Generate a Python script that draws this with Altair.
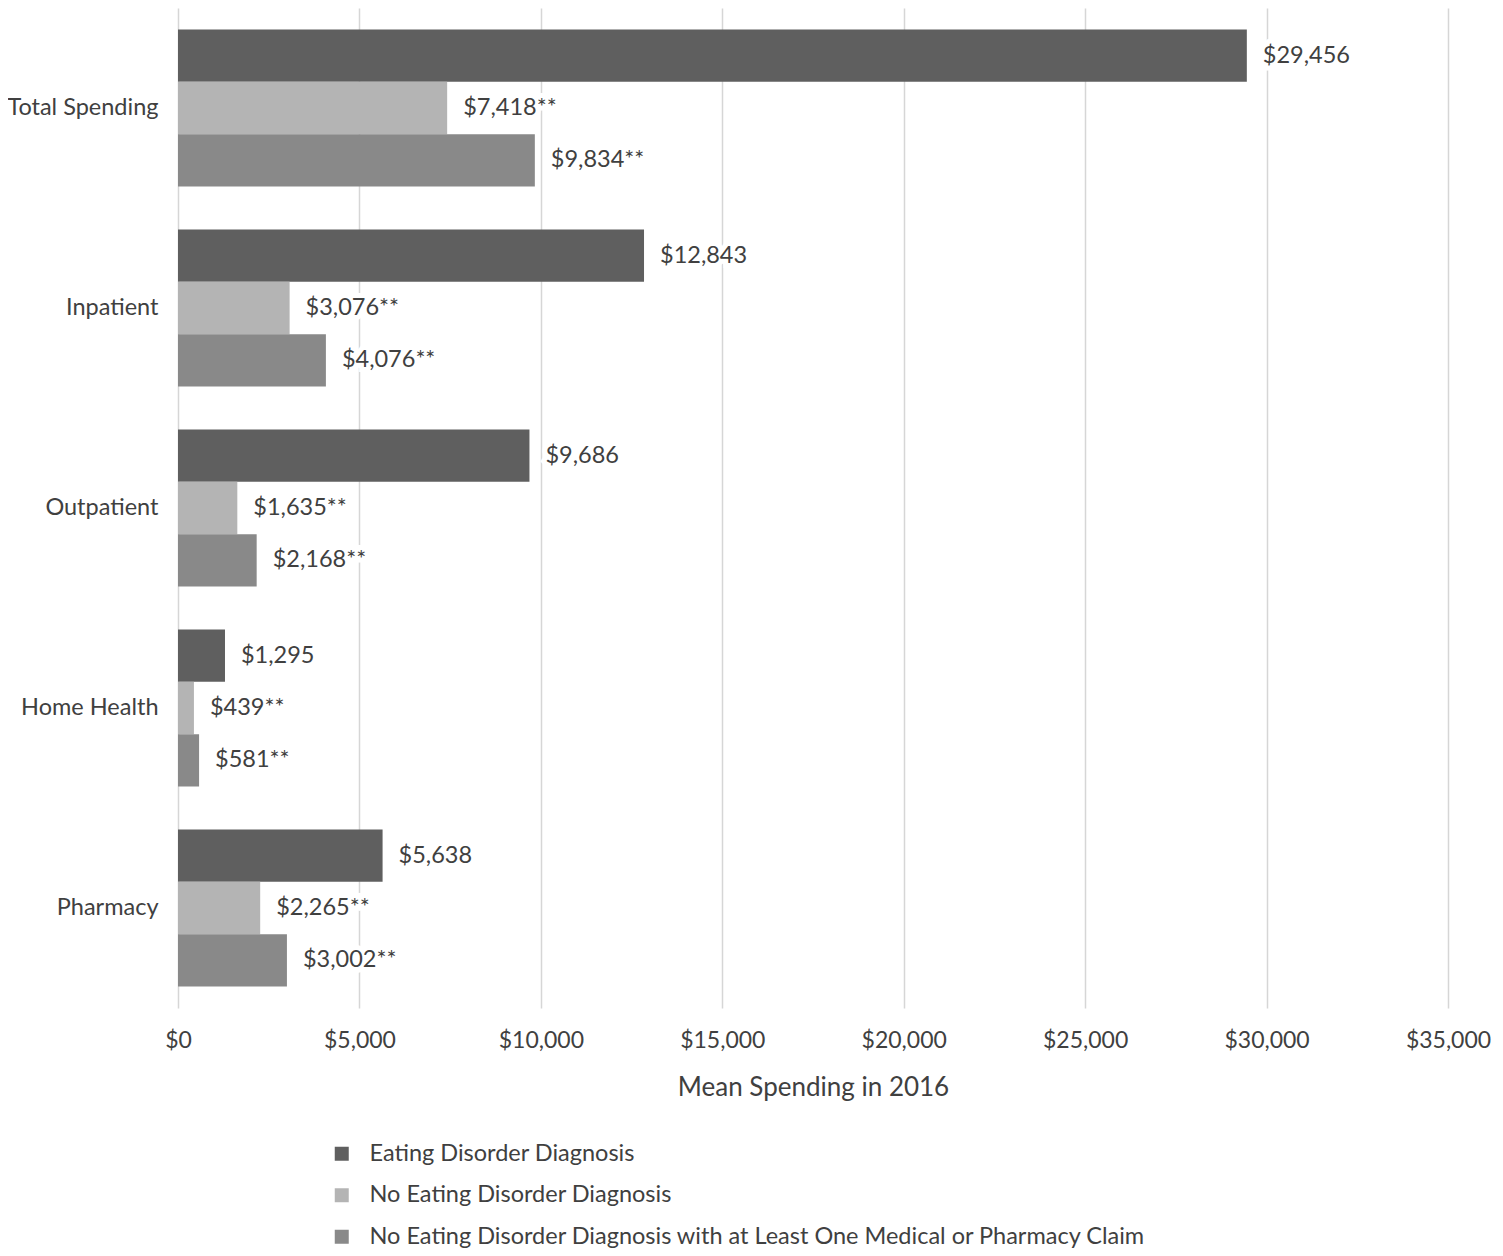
import altair as alt
import pandas as pd

categories = ["Total Spending", "Inpatient", "Outpatient", "Home Health", "Pharmacy"]
groups = [
    "Eating Disorder Diagnosis",
    "No Eating Disorder Diagnosis",
    "No Eating Disorder Diagnosis with at Least One Medical or Pharmacy Claim",
]
ed_values = [29456, 12843, 9686, 1295, 5638]
no_ed_values = [7418, 3076, 1635, 439, 2265]
no_ed_claim_values = [9834, 4076, 2168, 581, 3002]
sig_marks = ["", "**", "**"]
colors = ["#5f5f5f", "#b4b4b4", "#898989"]
x_ticks = [0, 5000, 10000, 15000, 20000, 25000, 30000, 35000]

rows = []
for g, vals, mark in zip(groups, [ed_values, no_ed_values, no_ed_claim_values], sig_marks):
    for c, v in zip(categories, vals):
        rows.append({"category": c, "group": g, "value": v,
                     "label": "$" + format(v, ",") + mark})
df = pd.DataFrame(rows)

FONT = "Lato"
TXT = "#404040"

base = alt.Chart(df).encode(
    y=alt.Y("category:N", sort=categories,
            scale=alt.Scale(paddingInner=0.216, paddingOuter=0.108),
            axis=alt.Axis(title=None, ticks=False, domain=False, labelPadding=20,
                          labelFontSize=23.5, labelFont=FONT, labelColor=TXT, grid=False,
                          labelLimit=400)),
    yOffset=alt.YOffset("group:N", sort=groups,
                        scale=alt.Scale(domain=groups, paddingInner=0, paddingOuter=0)),
)

bars = base.mark_bar().encode(
    x=alt.X("value:Q", scale=alt.Scale(domain=[0, 35000], nice=False),
            axis=alt.Axis(values=x_ticks, format="$,.0f", title="Mean Spending in 2016",
                          domain=False, ticks=False, labelPadding=21, labelFlush=False,
                          labelFontSize=23, labelFont=FONT, labelColor=TXT,
                          titleFontSize=26, titleFont=FONT, titleColor=TXT,
                          titleFontWeight="normal", titlePadding=22,
                          grid=True, gridColor="#d6d6d6", gridWidth=1.5)),
    color=alt.Color("group:N", sort=groups,
                    scale=alt.Scale(domain=groups, range=colors),
                    legend=alt.Legend(title=None, orient="none", legendX=152, legendY=1134,
                                      direction="vertical", symbolType="square",
                                      symbolSize=196, symbolStrokeWidth=0,
                                      labelFontSize=23.5, labelFont=FONT, labelColor=TXT,
                                      labelOffset=16, rowPadding=16.5, padding=0,
                                      labelLimit=1000)),
)

halo = base.mark_text(align="left", baseline="middle", dx=16, fontSize=23.5, font=FONT,
                      color="white", stroke="white", strokeWidth=10).encode(
    x="value:Q", text="label:N")

labels = base.mark_text(align="left", baseline="middle", dx=16, fontSize=23.5, font=FONT,
                        color=TXT).encode(
    x="value:Q", text="label:N")

chart = alt.layer(bars, halo, labels).properties(
    width=1270, height=1000,
    autosize=alt.AutoSizeParams(type="none"),
    padding={"left": 170, "top": 0, "right": 47, "bottom": 240},
).configure_view(stroke=None)

chart.save("out.html", embed_options={"renderer": "svg", "actions": False})
